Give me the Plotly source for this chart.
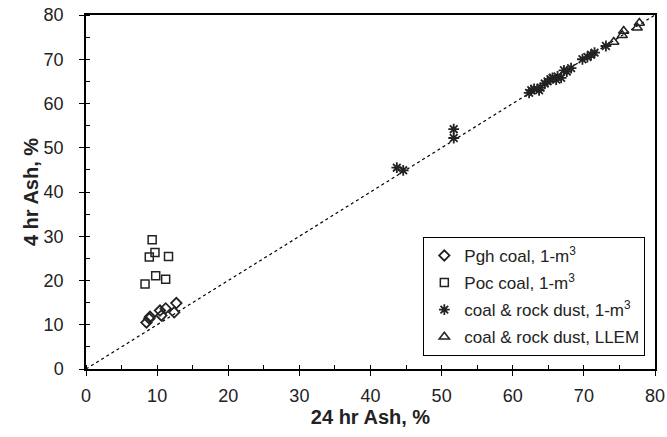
import plotly.graph_objects as go

# Pgh coal, 1-m3
pgh_x = [8.5, 8.9, 9.0, 10.4, 10.6, 11.2, 12.4, 12.7]
pgh_y = [10.5, 11.4, 11.8, 13.2, 12.1, 13.7, 12.8, 14.9]

# Poc coal, 1-m3
poc_x = [9.3, 9.7, 8.9, 11.6, 9.8, 11.2, 8.3]
poc_y = [29.2, 26.3, 25.3, 25.4, 21.1, 20.3, 19.2]

# coal & rock dust, 1-m3
crd_x = [43.7, 44.6, 51.7, 51.7, 62.3, 62.6, 63.0, 63.7, 63.9, 64.5, 64.9, 65.3,
         65.6, 66.1, 66.3, 66.8, 67.2, 67.6, 68.2, 69.8, 70.5, 71.0, 71.5, 73.1]
crd_y = [45.5, 44.9, 54.2, 52.2, 62.4, 63.0, 63.3, 63.0, 63.6, 64.5, 65.0, 65.5,
         65.8, 65.4, 66.1, 65.8, 67.5, 67.2, 68.0, 70.0, 70.5, 71.0, 71.5, 73.0]

# coal & rock dust, LLEM
llem_x = [74.2, 75.4, 75.6, 77.5, 77.8]
llem_y = [73.9, 75.4, 76.4, 77.1, 78.2]

line_xy = [0, 80]

ink = "#222222"
FONT = "Liberation Sans, Arial, sans-serif"
fig = go.Figure()

fig.add_trace(go.Scatter(x=line_xy, y=line_xy, mode="lines",
                         line=dict(color="black", width=1.2, dash="dot"),
                         showlegend=False, hoverinfo="skip"))

fig.add_trace(go.Scatter(x=pgh_x, y=pgh_y, mode="markers", name="Pgh coal, 1-m<sup>3</sup>",
                         legendgroup="a",
                         marker=dict(symbol="diamond-open", size=8, color=ink, line=dict(width=1.8, color=ink))))
fig.add_trace(go.Scatter(x=poc_x, y=poc_y, mode="markers", name="Poc coal, 1-m<sup>3</sup>",
                         legendgroup="b",
                         marker=dict(symbol="square-open", size=8, color=ink, line=dict(width=1.5, color=ink))))
fig.add_trace(go.Scatter(x=crd_x, y=crd_y, mode="markers", name="coal &amp; rock dust, 1-m<sup>3</sup>",
                         legendgroup="c",
                         marker=dict(symbol="asterisk-open", size=9, color=ink, line=dict(width=1.8, color=ink))))
fig.add_trace(go.Scatter(x=llem_x, y=llem_y, mode="markers", name="coal &amp; rock dust, LLEM",
                         legendgroup="d",
                         marker=dict(symbol="triangle-up-open", size=9, color=ink, line=dict(width=1.5, color=ink))))

axis_common = dict(
    range=[0, 80], dtick=10, tick0=0, automargin=False,
    showline=True, linecolor="black", linewidth=1.5, mirror=True,
    ticks="outside", ticklen=5, tickwidth=1, tickcolor="black",
    minor=dict(dtick=5, ticks="inside", ticklen=4, tickwidth=1, tickcolor="black"),
    showgrid=False, zeroline=False,
    tickfont=dict(family=FONT, size=18, color="#222"),
)

fig.update_xaxes(**axis_common, ticklabelstandoff=5,
                 title=dict(text="<b>24 hr Ash, %</b>", standoff=4,
                            font=dict(family=FONT, size=20, color="#222")))
fig.update_yaxes(**axis_common, ticklabelstandoff=12,
                 title=dict(text="<b>4 hr Ash, %</b>", standoff=0,
                            font=dict(family=FONT, size=20, color="#222")))

fig.update_layout(
    width=667, height=437,
    margin=dict(l=86, r=12, t=15, b=68),
    plot_bgcolor="white", paper_bgcolor="white",
    legend=dict(x=0.983, y=0.037, xanchor="right", yanchor="bottom",
                bordercolor="black", borderwidth=1, bgcolor="white",
                font=dict(family=FONT, size=17, color="#222"),
                tracegroupgap=2, itemwidth=30),
)

fig.write_html("out.html", config={"displayModeBar": False},
               post_script="document.body.style.margin='0';")
